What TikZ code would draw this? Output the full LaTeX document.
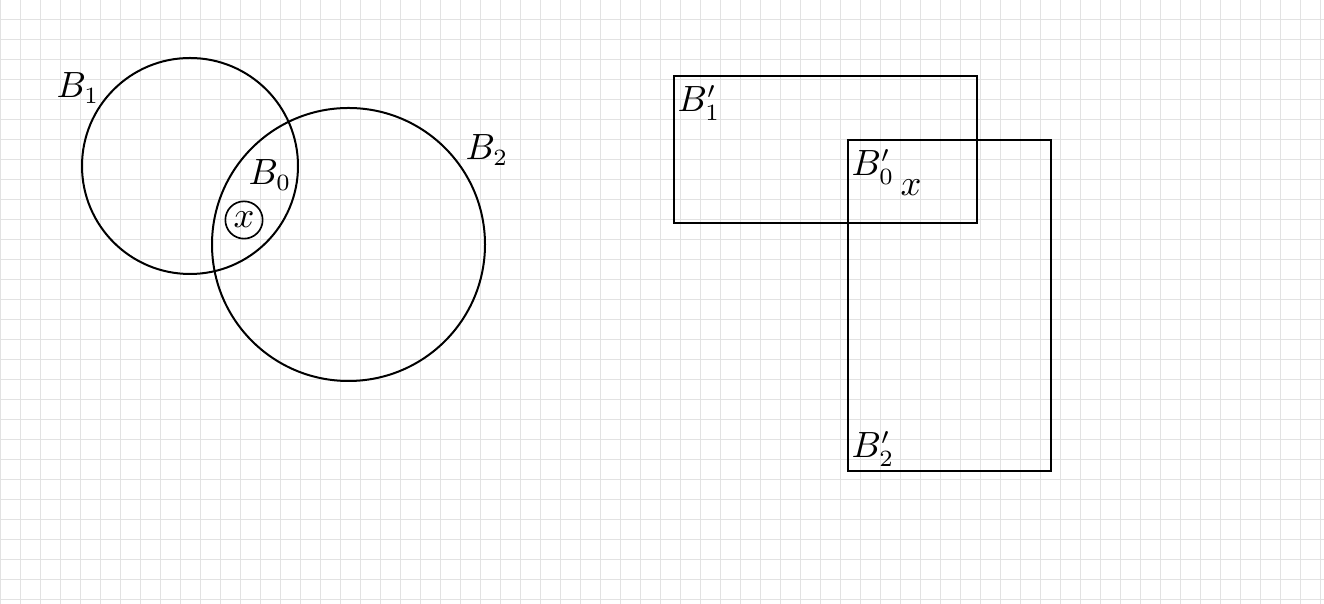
\documentclass[tikz,border=0pt]{standalone}
\usepackage{tikz}
\usetikzlibrary{positioning}
\definecolor{gridgray}{HTML}{E2E2E2}
\tikzset{
  gridline/.style={draw=gridgray,line width=0.3pt},
  ball/.style={draw=black,line width=0.6pt},
  box/.style={draw=black,line width=0.6pt},
  lbl/.style={inner sep=0pt,font=\fontsize{10.5}{12.5}\selectfont},
  dot/.style={circle,draw=black,line width=0.5pt,inner sep=1.2pt,font=\fontsize{10.5}{12.5}\selectfont}
}
\begin{document}
\begin{tikzpicture}[x=0.3pt,y=-0.3pt]
  \useasboundingbox (0,0) rectangle (1324,604);
  % background grid
  \foreach \gx in {0,20,...,1320} \draw[gridline] (\gx,0) -- (\gx,604);
  \foreach \gy in {0,20,...,600} \draw[gridline] (0,\gy) -- (1324,\gy);
  % balls
  \draw[ball] (190,166) circle[radius=108];
  \draw[ball] (348.5,244.5) circle[radius=136.5];
  \node[lbl] (b1) at (78,88) {$B_1$};
  \node[lbl] (b2) at (487,150) {$B_2$};
  \node[lbl] (b0) at (270,175) {$B_0$};
  \node[dot] (x) at (244,220) {$x$};
  % boxes
  \draw[box] (674,76) rectangle (977,223);
  \draw[box] (848,140) rectangle (1051,471);
  \node[lbl] (b1p) at (699,103) {$B_1'$};
  \node[lbl] (b0p) at (873,167) {$B_0'$};
  \node[lbl] (xp) at (911,188) {$x$};
  \node[lbl] (b2p) at (873,449) {$B_2'$};
\end{tikzpicture}
\end{document}
